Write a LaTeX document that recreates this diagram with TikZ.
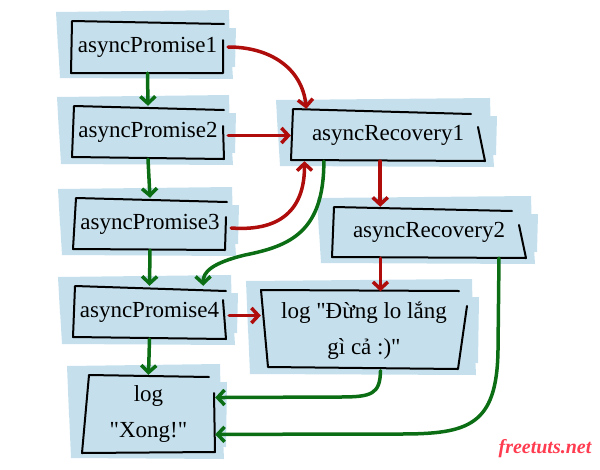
\documentclass[tikz,border=0pt]{standalone}
\usepackage{fontspec}
\setmainfont{Liberation Serif}[Ligatures=TeXOff]
\usetikzlibrary{arrows.meta,calc}
\definecolor{bgblue}{RGB}{197,224,236}
\definecolor{darkred}{RGB}{175,12,12}
\definecolor{darkgreen}{RGB}{12,110,20}
\definecolor{brand}{RGB}{255,60,80}
\newcommand\brush[4]{%
  \fill[bgblue] ({#1-15},{#2-9}) -- ({#3+5},{#2-11}) -- ({#3+6},{(#2+#4)/2}) -- ({#1-13},{(#2+#4)/2+1}) -- cycle;
  \fill[bgblue] ({#1-8},{#2+9}) -- ({#3+12},{#2+7}) -- ({#3+11},{#4-6}) -- ({#1-9},{#4-7}) -- cycle;
  \fill[bgblue] ({#1-13},{(#2+#4)/2-2}) -- ({#3+7},{(#2+#4)/2}) -- ({#3+9},{#4+6}) -- ({#1-11},{#4+5}) -- cycle;}
\begin{document}
\begin{tikzpicture}[x=1pt,y=-1pt,
  outline/.style={draw=black,line width=2pt,line cap=round,line join=round},
  box/.style={inner sep=0pt,align=center,font=\fontsize{23}{36}\selectfont},
  conn/.style={line width=3.5pt,line cap=round,-{Straight Barb[length=7pt,width=15pt]}},
  fail/.style={conn,draw=darkred},
  ok/.style={conn,draw=darkgreen}]
\useasboundingbox (0,0) rectangle (600,469);
% brush backgrounds
\brush{71}{21}{224}{73}
\brush{72}{106}{224}{159}
\brush{73}{198}{227}{250}
\brush{73}{286}{226}{339}
\brush{82}{375}{215}{453}
\brush{291}{109}{485}{161}
\brush{332}{207}{526}{258}
\brush{261}{290}{467}{369}
% sketchy outlines
\draw[outline] (224,24)--(72,21)--(71,73)--(223,73)--(223,40);
\draw[outline] (224,110)--(74,106)--(72,157)--(224,159)--(223,126);
\draw[outline] (227,202)--(76,198)--(73,249)--(225,250)--(226,217);
\draw[outline] (226,291)--(75,286)--(73,337)--(226,339)--(223,300);
\draw[outline] (209,377)--(89,375)--(82,453)--(215,452)--(214,393);
\draw[outline] (471,114)--(293,109)--(291,160)--(485,161)--(478,127);
\draw[outline] (512,211)--(334,207)--(332,257)--(526,258)--(519,225);
\draw[outline] (459,291)--(261,290)--(268,367)--(458,369)--(467,306);
% nodes
\node[box,minimum width=153,minimum height=52] (p1) at (147.5,47) {asyncPromise1};
\node[box,minimum width=152,minimum height=53] (p2) at (148,132.5) {asyncPromise2};
\node[box,minimum width=154,minimum height=52] (p3) at (150,224) {asyncPromise3};
\node[box,minimum width=153,minimum height=53] (p4) at (149.5,312.5) {asyncPromise4};
\node[box,minimum width=133,minimum height=78] (xong) at (148.5,414) {log\\"Xong!"};
\node[box,minimum width=194,minimum height=52] (rec1) at (388,135) {asyncRecovery1};
\node[box,minimum width=194,minimum height=51] (rec2) at (429,232.5) {asyncRecovery2};
\node[box,minimum width=206,minimum height=79] (log) at (364,331) {log "Đừng lo lắng\\gì cả :)"};
\node[font=\bfseries\itshape\fontsize{20}{24}\selectfont,text=brand] (brandtext) at (545,449) {freetuts.net};
% green chain
\draw[ok] (p1.south) -- (p2.north);
\draw[ok] (p2.south) -- (p3.north);
\draw[ok] (p3.south) -- (p4.north);
\draw[ok] (p4.south) -- (xong.north);
% red connectors
\draw[fail] ([xshift=4]p1.east) .. controls (270,47) and (302,68) .. ($(rec1.north west)!0.08!(rec1.north east)$);
\draw[fail] ([xshift=4,yshift=-3]p2.east) -- ([yshift=-3]p2.east -| rec1.west);
\draw[fail] ([xshift=4,yshift=-4]p3.east) .. controls (285,232) and (305,205) .. ($(rec1.south west)!0.07!(rec1.south east)$);
\draw[fail] ($(rec1.south west)!0.46!(rec1.south east)$) coordinate (r1s) -- (r1s |- rec2.north);
\draw[fail] ($(rec2.south west)!0.25!(rec2.south east)$) coordinate (r2s) -- (r2s |- log.north);
\draw[fail] ([xshift=3,yshift=-3]p4.east) -- ([yshift=-3]p4.east -| log.west);
% green connectors
\draw[ok] ($(rec1.south west)!0.17!(rec1.south east)$) .. controls (324,232) and (290,246) .. (245,255) .. controls (212,263) and (203,272) .. ($(p4.north west)!0.85!(p4.north east)$);
\draw[ok] ($(log.south west)!0.58!(log.south east)$) .. controls (380,394) and (372,397) .. (340,397) -- ($(xong.north east)!0.29!(xong.south east)$);
\draw[ok] ($(rec2.south west)!0.86!(rec2.south east)$) -- (498,350) .. controls (497,426) and (468,434) .. (400,434) -- ($(xong.north east)!0.76!(xong.south east)$);
\end{tikzpicture}
\end{document}
